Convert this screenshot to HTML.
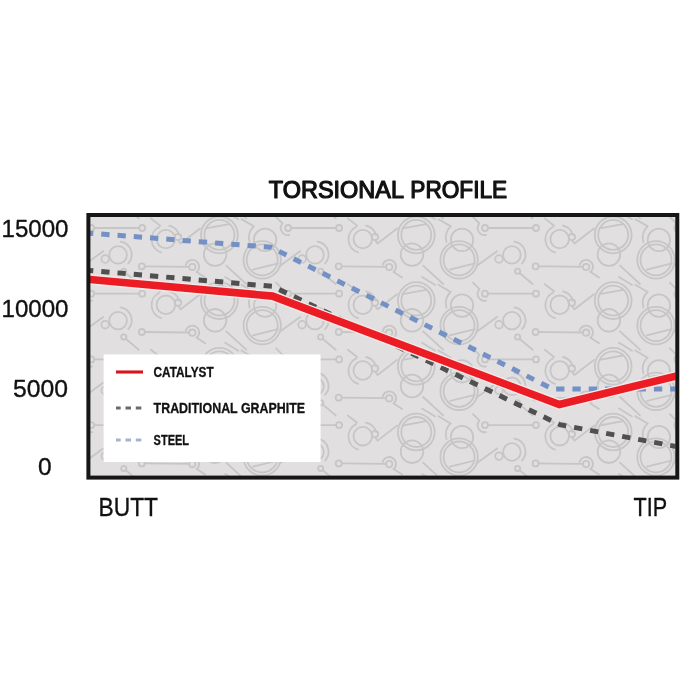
<!DOCTYPE html>
<html lang="en">
<head>
<meta charset="utf-8">
<title>Torsional Profile</title>
<style>
html,body{margin:0;padding:0;background:#fff;}
body{width:700px;height:700px;overflow:hidden;font-family:"Liberation Sans",sans-serif;}
svg{display:block;}
text{font-family:"Liberation Sans",sans-serif;fill:#111;}
</style>
</head>
<body>
<svg width="700" height="700" viewBox="0 0 700 700">
<defs>
  <g id="tile" fill="none" stroke="#c7c6c6" stroke-width="1.8" stroke-linecap="round">
      <!-- A -->
      <circle cx="45" cy="11" r="3"/><line x1="48" y1="11" x2="93" y2="11"/><circle cx="96" cy="11" r="3"/>
      <path d="M46 18 A7 7 0 0 1 39 7"/><line x1="33" y1="0" x2="39.5" y2="6.5"/>
      <!-- B C -->
      <circle cx="22" cy="22.9" r="11.2"/><path d="M6.5 25 A15.7 15.7 0 0 1 10.6 9.3 L-1.6 2.1"/>
      <circle cx="19.1" cy="42.9" r="18.7"/><circle cx="19.1" cy="42.9" r="15.5"/><line x1="9.9" y1="52.6" x2="34.9" y2="46.4"/>
      <!-- D -->
      <circle cx="71.9" cy="37.9" r="8.8"/><path d="M74.5 24.6 A13.2 13.2 0 0 1 82 46.5"/><circle cx="59" cy="42" r="3.8"/>
      <line x1="36.3" y1="49.3" x2="57" y2="34.3"/><circle cx="77.6" cy="54.3" r="2.6"/><line x1="79.5" y1="56" x2="92.6" y2="67"/>
      <!-- E -->
      <circle cx="95.6" cy="49.3" r="3"/><line x1="98.6" y1="49.3" x2="143" y2="49.8"/><circle cx="146.1" cy="50" r="3.2"/>
      <path d="M139.6 48 A6.8 6.8 0 1 1 150.5 55"/><line x1="150.5" y1="55" x2="159" y2="60.5"/>
      <!-- F -->
      <circle cx="119.7" cy="22.1" r="9.3"/><path d="M115 35.5 A13.8 13.8 0 0 1 113 10"/><path d="M123 8.6 A13.8 13.8 0 0 1 133 18"/><circle cx="131.9" cy="20" r="3.2"/>
      <path d="M131.9 23.2 L134.5 26.5 L154 11.5"/><line x1="104.7" y1="1.4" x2="114" y2="8.6"/>
      <!-- G H -->
      <circle cx="173.2" cy="17.9" r="18.4"/><circle cx="173.2" cy="17.9" r="15"/><line x1="159.6" y1="11.4" x2="183" y2="7.1"/>
      <circle cx="168.9" cy="37.6" r="11.3"/>
      <!-- I -->
      <line x1="180" y1="48.6" x2="200" y2="67"/><line x1="179" y1="60" x2="192" y2="68"/>
    </g>
  <filter id="soft" x="0" y="0" width="100%" height="100%" filterUnits="objectBoundingBox"><feGaussianBlur stdDeviation="0.55"/></filter>
  <clipPath id="inner"><rect x="90" y="217" width="585.5" height="259"/></clipPath>
</defs>

<!-- title -->
<g font-size="23.2" font-weight="400" stroke="#111" stroke-width="1.2" stroke-linejoin="round">
<text y="197.6"><tspan x="268.8" textLength="134.3" lengthAdjust="spacingAndGlyphs">TORSIONAL</tspan> <tspan x="410.3" textLength="96.8" lengthAdjust="spacingAndGlyphs">PROFILE</tspan></text>
</g>

<!-- chart box -->
<rect x="88.4" y="215" width="588.9" height="262.6" fill="#e1dfe0"/>
<g clip-path="url(#inner)" filter="url(#soft)">
<use href="#tile" x="46.2" y="151.3"/>
<use href="#tile" x="243.1" y="151.3"/>
<use href="#tile" x="440.0" y="151.3"/>
<use href="#tile" x="636.9" y="151.3"/>
<use href="#tile" x="46.2" y="217.0"/>
<use href="#tile" x="243.1" y="217.0"/>
<use href="#tile" x="440.0" y="217.0"/>
<use href="#tile" x="636.9" y="217.0"/>
<use href="#tile" x="46.2" y="282.7"/>
<use href="#tile" x="243.1" y="282.7"/>
<use href="#tile" x="440.0" y="282.7"/>
<use href="#tile" x="636.9" y="282.7"/>
<use href="#tile" x="46.2" y="348.4"/>
<use href="#tile" x="243.1" y="348.4"/>
<use href="#tile" x="440.0" y="348.4"/>
<use href="#tile" x="636.9" y="348.4"/>
<use href="#tile" x="46.2" y="414.1"/>
<use href="#tile" x="243.1" y="414.1"/>
<use href="#tile" x="440.0" y="414.1"/>
<use href="#tile" x="636.9" y="414.1"/>
</g>

<g clip-path="url(#inner)" fill="none">
  <polyline points="88,233 271,247.3 552.7,389 680,389" stroke="#7391c5" stroke-width="5" stroke-dasharray="8.3 8" stroke-dashoffset="3"/>
  <polyline points="88,270.3 272.7,286.4 560,424.7 680,447.2" stroke="#505050" stroke-width="5" stroke-dasharray="8.3 8" stroke-dashoffset="3"/>
  <polyline points="86,279.1 272.5,296.1 559.3,404.5 680,375.2" stroke="#f4e9e9" stroke-width="10.5" stroke-linejoin="miter"/>
  <polyline points="86,279.1 272.5,296.1 559.3,404.5 680,375.2" stroke="#ec1c24" stroke-width="7.6" stroke-linejoin="miter"/>
</g>

<!-- legend -->
<rect x="103.6" y="354.4" width="217" height="107.6" fill="#fff"/>
<line x1="116" y1="372" x2="143" y2="372" stroke="#d8141c" stroke-width="3.1"/>
<line x1="116" y1="408" x2="143" y2="408" stroke="#6a6a6a" stroke-width="3.1" stroke-dasharray="5.5 4.8" stroke-dashoffset="0.8"/>
<line x1="116" y1="440" x2="143" y2="440" stroke="#a3b2cd" stroke-width="3.1" stroke-dasharray="5.5 4.8" stroke-dashoffset="0.8"/>
<g stroke="#111" stroke-width="0.3" stroke-linejoin="round">
<text x="153.6" y="377" font-size="14" font-weight="700" textLength="60" lengthAdjust="spacingAndGlyphs">CATALYST</text>
<text x="153.6" y="413" font-size="14" font-weight="700" textLength="151.4" lengthAdjust="spacingAndGlyphs">TRADITIONAL GRAPHITE</text>
<text x="153.6" y="445" font-size="14" font-weight="700" textLength="35.4" lengthAdjust="spacingAndGlyphs">STEEL</text>
</g>

<!-- border -->
<rect x="88.4" y="215" width="588.9" height="262.6" fill="none" stroke="#161616" stroke-width="4"/>

<!-- axis labels -->
<g stroke="#111" stroke-width="0.35" stroke-linejoin="round">
<text x="1.5" y="237.1" font-size="24.5" textLength="67" lengthAdjust="spacingAndGlyphs">15000</text>
<text x="1.5" y="317.1" font-size="24.5" textLength="67" lengthAdjust="spacingAndGlyphs">10000</text>
<text x="13" y="397" font-size="24.5" textLength="55" lengthAdjust="spacingAndGlyphs">5000</text>
<text x="38" y="475.3" font-size="24.5">0</text>
<text x="98.5" y="516" font-size="25" textLength="59.5" lengthAdjust="spacingAndGlyphs">BUTT</text>
<text x="633.5" y="516" font-size="25" textLength="33.6" lengthAdjust="spacingAndGlyphs">TIP</text>
</g>
</svg>
</body>
</html>
